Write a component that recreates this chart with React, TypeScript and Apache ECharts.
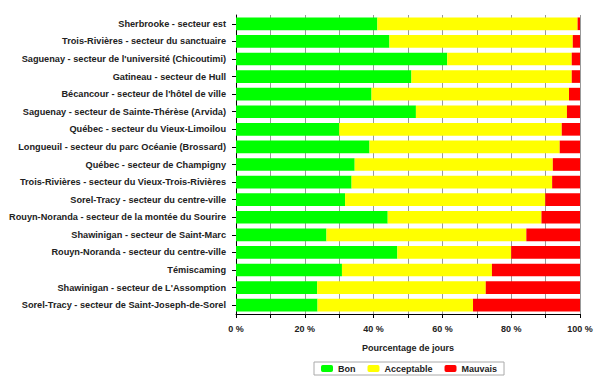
import React, { useEffect, useRef } from "react";
import * as echarts from "echarts";

const categories = [
  "Sherbrooke - secteur est",
  "Trois-Rivières - secteur du sanctuaire",
  "Saguenay - secteur de l'université (Chicoutimi)",
  "Gatineau - secteur de Hull",
  "Bécancour - secteur de l'hôtel de ville",
  "Saguenay - secteur de Sainte-Thérèse (Arvida)",
  "Québec - secteur du Vieux-Limoilou",
  "Longueuil - secteur du parc Océanie (Brossard)",
  "Québec - secteur de Champigny",
  "Trois-Rivières - secteur du Vieux-Trois-Rivières",
  "Sorel-Tracy - secteur du centre-ville",
  "Rouyn-Noranda - secteur de la montée du Sourire",
  "Shawinigan - secteur de Saint-Marc",
  "Rouyn-Noranda - secteur du centre-ville",
  "Témiscaming",
  "Shawinigan - secteur de L'Assomption",
  "Sorel-Tracy - secteur de Saint-Joseph-de-Sorel",
];

const bon = [41.1, 44.6, 61.4, 51.0, 39.4, 52.3, 30.0, 38.8, 34.5, 33.6, 31.7, 44.1, 26.3, 46.9, 30.8, 23.6, 23.7];
const acceptable = [58.2, 53.3, 36.2, 46.6, 57.4, 43.9, 64.7, 55.3, 57.6, 58.3, 58.2, 44.7, 58.1, 33.1, 43.6, 49.0, 45.2];
const mauvais = [0.7, 2.1, 2.4, 2.4, 3.2, 3.8, 5.3, 5.9, 7.9, 8.1, 10.1, 11.2, 15.6, 20.0, 25.6, 27.4, 31.1];

const xTicks = [0, 10, 20, 30, 40, 50, 60, 70, 80, 90, 100];

const FONT = "'Liberation Sans', Arial, sans-serif";

export default function App() {
  const ref = useRef<HTMLDivElement>(null);
  useEffect(() => {
    if (!ref.current) return;
    const chart = echarts.init(ref.current, null, { renderer: "svg" });
    const mk = (name: string, data: number[], color: string) => ({
      name,
      type: "bar",
      stack: "total",
      data,
      barCategoryGap: "28%",
      itemStyle: { color },
      emphasis: { disabled: true },
    });
    chart.setOption({
      animation: false,
      backgroundColor: "#ffffff",
      textStyle: { fontFamily: FONT },
      grid: { left: 236, right: 20, top: 15, bottom: 67, containLabel: false },
      xAxis: {
        type: "value",
        min: xTicks[0],
        max: xTicks[xTicks.length - 1],
        interval: 10,
        name: "Pourcentage de jours",
        nameLocation: "middle",
        nameGap: 29,
        nameTextStyle: { fontFamily: FONT, fontWeight: "bold", fontSize: 9, color: "#222" },
        axisLine: { show: true, lineStyle: { color: "#000", width: 1 } },
        axisTick: { show: true, length: 4, lineStyle: { color: "#000" } },
        axisLabel: {
          fontFamily: FONT,
          fontWeight: "bold",
          fontSize: 9,
          color: "#222",
          margin: 10,
          formatter: (v: number) => (v % 20 === 0 ? v + " %" : ""),
        },
        splitLine: { show: true, lineStyle: { color: "#999", width: 1 } },
      },
      yAxis: {
        type: "category",
        data: categories,
        inverse: true,
        axisLine: { show: true, lineStyle: { color: "#000", width: 1 } },
        axisTick: { show: true, alignWithLabel: true, length: 4, lineStyle: { color: "#000" } },
        axisLabel: { fontFamily: FONT, fontWeight: "bold", fontSize: 9.2, color: "#222", margin: 10 },
        splitLine: { show: false },
      },
      legend: {
        top: 362,
        left: 314,
        itemWidth: 12,
        itemHeight: 7,
        itemGap: 12,
        borderColor: "#aaa",
        borderWidth: 1,
        borderRadius: 0,
        padding: [2, 7, 2, 7],
        textStyle: { fontFamily: FONT, fontWeight: "bold", fontSize: 9, color: "#222" },
        data: [{ name: "Bon" }, { name: "Acceptable" }, { name: "Mauvais" }],
      },
      series: [
        mk("Bon", bon, "#00ff00"),
        mk("Acceptable", acceptable, "#ffff00"),
        mk("Mauvais", mauvais, "#ff0000"),
      ],
    });
    return () => chart.dispose();
  }, []);
  return <div ref={ref} style={{ width: 600, height: 381, position: "absolute", left: 0, top: 0 }} />;
}
